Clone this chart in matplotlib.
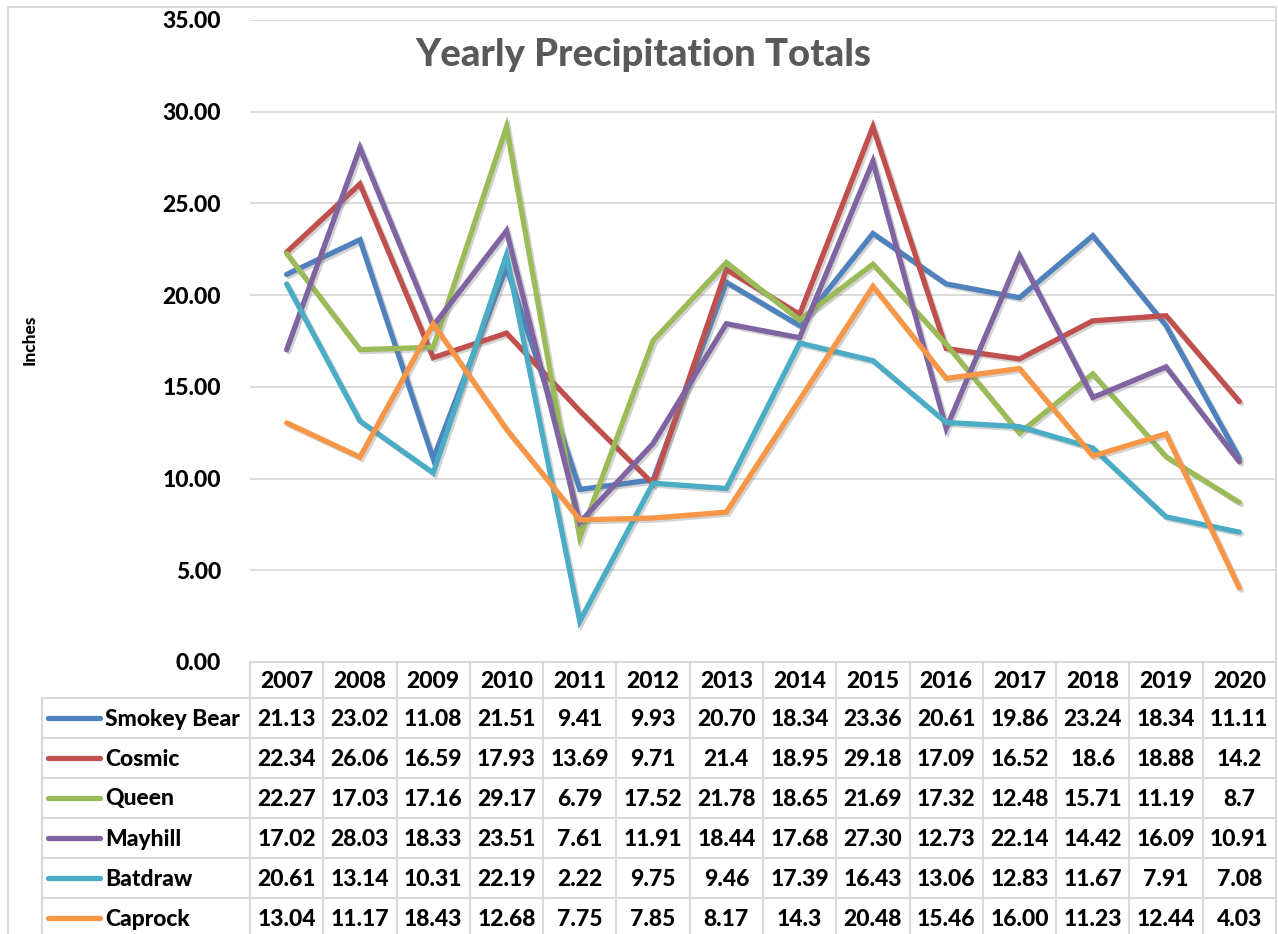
import matplotlib.pyplot as plt
import matplotlib.patheffects as pe
import numpy as np

years = ['2007', '2008', '2009', '2010', '2011', '2012', '2013',
         '2014', '2015', '2016', '2017', '2018', '2019', '2020']
stations = ['Smokey Bear', 'Cosmic', 'Queen', 'Mayhill', 'Batdraw', 'Caprock']

smokey_bear = [21.13, 23.02, 11.08, 21.51, 9.41, 9.93, 20.70, 18.34, 23.36, 20.61, 19.86, 23.24, 18.34, 11.11]
cosmic = [22.34, 26.06, 16.59, 17.93, 13.69, 9.71, 21.4, 18.95, 29.18, 17.09, 16.52, 18.6, 18.88, 14.2]
queen = [22.27, 17.03, 17.16, 29.17, 6.79, 17.52, 21.78, 18.65, 21.69, 17.32, 12.48, 15.71, 11.19, 8.7]
mayhill = [17.02, 28.03, 18.33, 23.51, 7.61, 11.91, 18.44, 17.68, 27.30, 12.73, 22.14, 14.42, 16.09, 10.91]
batdraw = [20.61, 13.14, 10.31, 22.19, 2.22, 9.75, 9.46, 17.39, 16.43, 13.06, 12.83, 11.67, 7.91, 7.08]
caprock = [13.04, 11.17, 18.43, 12.68, 7.75, 7.85, 8.17, 14.3, 20.48, 15.46, 16.00, 11.23, 12.44, 4.03]

# table cell text exactly as shown in the sheet
cell_text = [
    ['21.13', '23.02', '11.08', '21.51', '9.41', '9.93', '20.70', '18.34', '23.36', '20.61', '19.86', '23.24', '18.34', '11.11'],
    ['22.34', '26.06', '16.59', '17.93', '13.69', '9.71', '21.4', '18.95', '29.18', '17.09', '16.52', '18.6', '18.88', '14.2'],
    ['22.27', '17.03', '17.16', '29.17', '6.79', '17.52', '21.78', '18.65', '21.69', '17.32', '12.48', '15.71', '11.19', '8.7'],
    ['17.02', '28.03', '18.33', '23.51', '7.61', '11.91', '18.44', '17.68', '27.30', '12.73', '22.14', '14.42', '16.09', '10.91'],
    ['20.61', '13.14', '10.31', '22.19', '2.22', '9.75', '9.46', '17.39', '16.43', '13.06', '12.83', '11.67', '7.91', '7.08'],
    ['13.04', '11.17', '18.43', '12.68', '7.75', '7.85', '8.17', '14.3', '20.48', '15.46', '16.00', '11.23', '12.44', '4.03'],
]
series = [smokey_bear, cosmic, queen, mayhill, batdraw, caprock]
colors = ['#4F81BD', '#C0504D', '#9BBB59', '#8064A2', '#4BACC6', '#F79646']

plt.rcParams['font.family'] = ['Lato', 'DejaVu Sans']
FW = 'black'
FS = 16.5

W, H = 1278, 934
fig = plt.figure(figsize=(W / 100, H / 100), dpi=100)

# layout in pixels
left, right = 250, 1276
top, zero = 20, 662
hdr_h, row_h = 36, 40
label_left = 42
col_w = (right - left) / len(years)

ax = fig.add_axes([left / W, 1 - zero / H, (right - left) / W, (zero - top) / H])
ax.set_facecolor('none')
x = np.arange(len(years))
shadow = [pe.SimpleLineShadow(offset=(1.5, -1.5), shadow_color='#808080', alpha=0.35), pe.Normal()]
for vals, c in zip(series, colors):
    ax.plot(x, vals, color=c, lw=3.8, solid_capstyle='round', solid_joinstyle='miter',
            zorder=3, path_effects=shadow)

ax.set_xlim(-0.5, len(years) - 0.5)
ax.set_ylim(0, 35)
ax.set_yticks(np.arange(0, 36, 5))
ax.set_yticklabels(['%.2f' % v for v in np.arange(0, 36, 5)], fontsize=FS, fontweight=FW)
ax.tick_params(axis='y', length=0, pad=21)
ax.set_xticks([])
ax.grid(axis='y', color='#D9D9D9', lw=1.3)
ax.set_axisbelow(True)
for s in ax.spines.values():
    s.set_visible(False)

# overlay in pixel coords for table, frame and labels
ov = fig.add_axes([0, 0, 1, 1], zorder=-1)
ov.set_xlim(0, W)
ov.set_ylim(H, 0)
ov.axis('off')

grid_c = '#D9D9D9'
ov.plot([8, 8, right], [H + 5, 7, 7], color=grid_c, lw=1.5)
ov.plot([right, right], [7, H + 5], color=grid_c, lw=1.5)

# header row
ov.plot([left, right], [zero, zero], color=grid_c, lw=1.5)
for i in range(len(years) + 1):
    xx = left + i * col_w
    ov.plot([xx, xx], [zero, H + 5], color=grid_c, lw=1.5)
for i, yr in enumerate(years):
    ov.text(left + (i + 0.5) * col_w, zero + hdr_h / 2 + 1, yr, ha='center', va='center',
            fontsize=FS, fontweight=FW)

# data rows
y0 = zero + hdr_h
ov.plot([label_left, label_left], [y0, H + 5], color=grid_c, lw=1.5)
for r in range(len(stations) + 1):
    yy = y0 + r * row_h
    ov.plot([label_left, right], [yy, yy], color=grid_c, lw=1.5)
for r, (name, c) in enumerate(zip(stations, colors)):
    yc = y0 + (r + 0.5) * row_h
    ov.plot([48, 100], [yc, yc], color=c, lw=3.8, solid_capstyle='round')
    ov.text(105, yc + 1, name, ha='left', va='center', fontsize=FS, fontweight=FW)
    for i, t in enumerate(cell_text[r]):
        ov.text(left + (i + 0.5) * col_w, yc + 1, t, ha='center', va='center',
                fontsize=FS, fontweight=FW)

ov.text(30, 340, 'Inches', rotation=90, ha='center', va='center', fontsize=12.5, fontweight=FW)
ov.text(643, 55, 'Yearly Precipitation Totals', ha='center', va='center',
        fontsize=27.5, fontweight=FW, color='#595959')

fig.savefig('out.png', dpi=100)
